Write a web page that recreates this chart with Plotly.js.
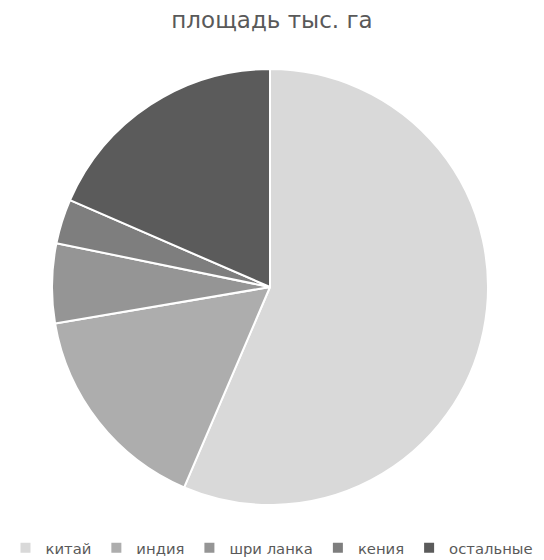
<!DOCTYPE html>
<html>
<head>
<meta charset="utf-8">
<script src="https://cdn.plot.ly/plotly-3.0.1.min.js"></script>
<style>html,body{margin:0;padding:0;background:#fff}#chart{width:544px;height:560px}</style>
</head>
<body>
<div id="chart"></div>
<script>
const labels = ["китай", "индия", "шри ланка", "кения", "остальные"];
const values = [56.5, 15.9, 5.9, 3.3, 18.5];
const colors = ["#d9d9d9", "#adadad", "#959595", "#7e7e7e", "#5b5b5b"];

Plotly.newPlot("chart", [{
  type: "pie",
  labels: labels,
  values: values,
  sort: false,
  direction: "clockwise",
  rotation: 0,
  textinfo: "none",
  hoverinfo: "label+value",
  domain: {x: [52 / 544, 488 / 544], y: [0, 1]},
  marker: {colors: colors, line: {color: "#ffffff", width: 2}}
}], {
  width: 544, height: 560,
  margin: {l: 0, r: 0, t: 69, b: 55, autoexpand: false},
  paper_bgcolor: "#ffffff",
  title: {text: "площадь тыс. га", x: 0.5, xanchor: "center", y: 0.964, yanchor: "middle",
          font: {family: "DejaVu Sans, sans-serif", size: 23, color: "#595959"}},
  showlegend: true,
  legend: {orientation: "h", x: 0.5, xanchor: "center", y: -0.099, yanchor: "middle",
           font: {family: "DejaVu Sans, sans-serif", size: 14.8, color: "#595959"},
           itemwidth: 30, traceorder: "normal"}
}, {displayModeBar: false});
</script>
</body>
</html>
